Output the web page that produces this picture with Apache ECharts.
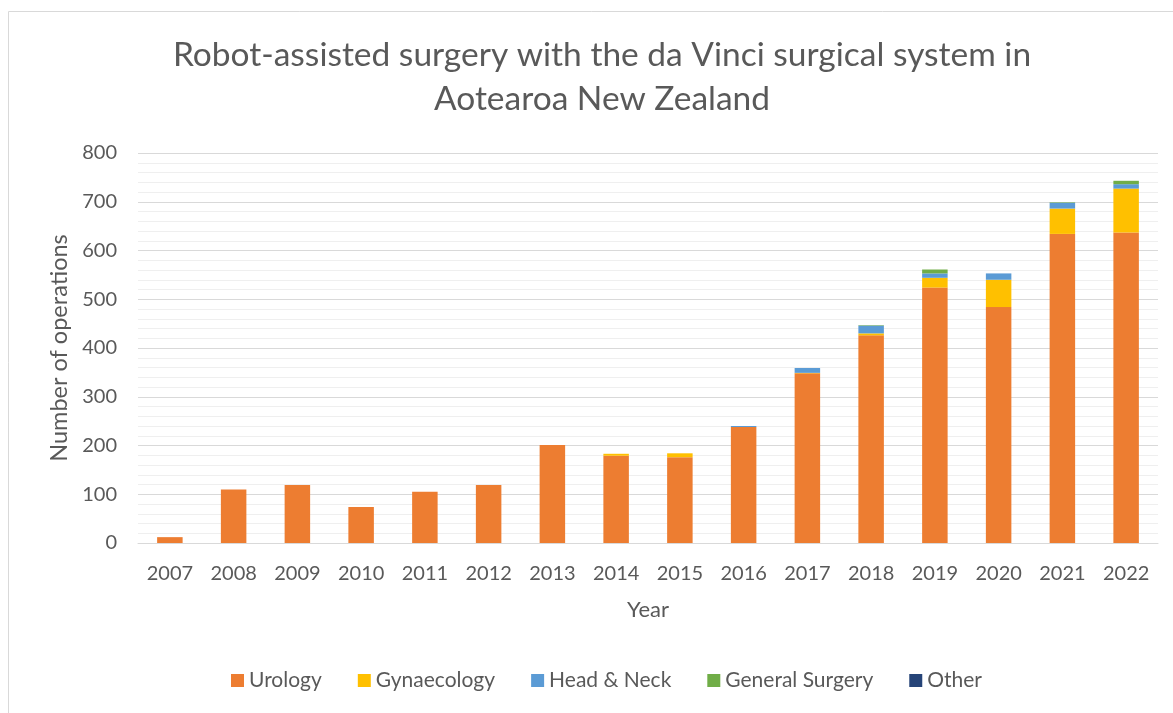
<!DOCTYPE html>
<html>
<head>
<meta charset="utf-8">
<script src="https://cdn.jsdelivr.net/npm/echarts@6/dist/echarts.min.js"></script>
<style>
  html, body { margin: 0; padding: 0; background: #fff; }
  #chart { width: 1173px; height: 713px; }
</style>
</head>
<body>
<div id="chart"></div>
<script>
var years = ['2007', '2008', '2009', '2010', '2011', '2012', '2013', '2014', '2015', '2016', '2017', '2018', '2019', '2020', '2021', '2022'];
var urology = [12, 110, 119, 74, 105, 119, 201, 179, 176, 238, 348, 426, 524, 484, 634, 637];
var gynaecology = [0, 0, 0, 0, 0, 0, 0, 4, 8, 0, 1, 4, 20, 56, 52, 90];
var headNeck = [0, 0, 0, 0, 0, 0, 0, 0, 0, 2, 10, 16, 9, 13, 12, 9];
var generalSurgery = [0, 0, 0, 0, 0, 0, 0, 0, 0, 0, 0, 1, 8, 0, 1, 7];
var other = [0, 0, 0, 0, 0, 0, 0, 0, 0, 0, 0, 0, 0, 0, 0, 0];

var FONT = 'Lato';
var TXT = '#595959';

// 每个分类一个堆叠系列
function makeSeries(name, data, color) {
    return {
        name: name,
        type: 'bar',
        stack: 'total',
        barWidth: '40%',
        data: data,
        itemStyle: { color: color },
        emphasis: { disabled: true }
    };
}

var chart = echarts.init(document.getElementById('chart'));

chart.setOption({
    animation: false,
    textStyle: { fontFamily: FONT },
    graphic: [
        {
            type: 'rect',
            shape: { x: 8.5, y: 11.5, width: 1180, height: 720 },
            style: { fill: 'none', stroke: '#d9d9d9', lineWidth: 1 },
            silent: true
        }
    ],
    title: {
        text: 'Robot-assisted surgery with the da Vinci surgical system in\nAotearoa New Zealand',
        left: 597,
        textAlign: 'center',
        top: 28,
        textStyle: {
            color: TXT,
            fontFamily: FONT,
            fontWeight: 'normal',
            fontSize: 33.5,
            lineHeight: 44
        }
    },
    legend: {
        bottom: 17,
        left: 226,
        itemWidth: 13,
        itemHeight: 13,
        itemGap: 36,
        icon: 'rect',
        textStyle: { color: TXT, fontSize: 21, fontFamily: FONT },
        data: ['Urology', 'Gynaecology', 'Head & Neck', 'General Surgery', 'Other']
    },
    grid: {
        left: 138,
        right: 15,
        top: 153,
        bottom: 170
    },
    xAxis: {
        type: 'category',
        data: years,
        name: 'Year',
        nameLocation: 'middle',
        nameGap: 56,
        nameTextStyle: { color: TXT, fontSize: 22, fontFamily: FONT },
        axisLine: { lineStyle: { color: '#d9d9d9', width: 1 } },
        axisTick: { show: false },
        axisLabel: { color: TXT, fontSize: 20, margin: 21, fontFamily: FONT }
    },
    yAxis: {
        type: 'value',
        min: 0,
        max: 800,
        interval: 100,
        name: 'Number of operations',
        nameLocation: 'middle',
        nameGap: 66,
        nameTextStyle: { color: TXT, fontSize: 23.5, fontFamily: FONT },
        axisLine: { show: false },
        axisTick: { show: false },
        axisLabel: { color: TXT, fontSize: 20, margin: 21, fontFamily: FONT },
        splitLine: { lineStyle: { color: '#d9d9d9', width: 1 } },
        minorTick: { show: false, splitNumber: 5 },
        minorSplitLine: { show: true, lineStyle: { color: '#efefef', width: 1 } }
    },
    series: [
        makeSeries('Urology', urology, '#ed7d31'),
        makeSeries('Gynaecology', gynaecology, '#ffc000'),
        makeSeries('Head & Neck', headNeck, '#5b9bd5'),
        makeSeries('General Surgery', generalSurgery, '#70ad47'),
        makeSeries('Other', other, '#264478')
    ]
});
</script>
</body>
</html>
